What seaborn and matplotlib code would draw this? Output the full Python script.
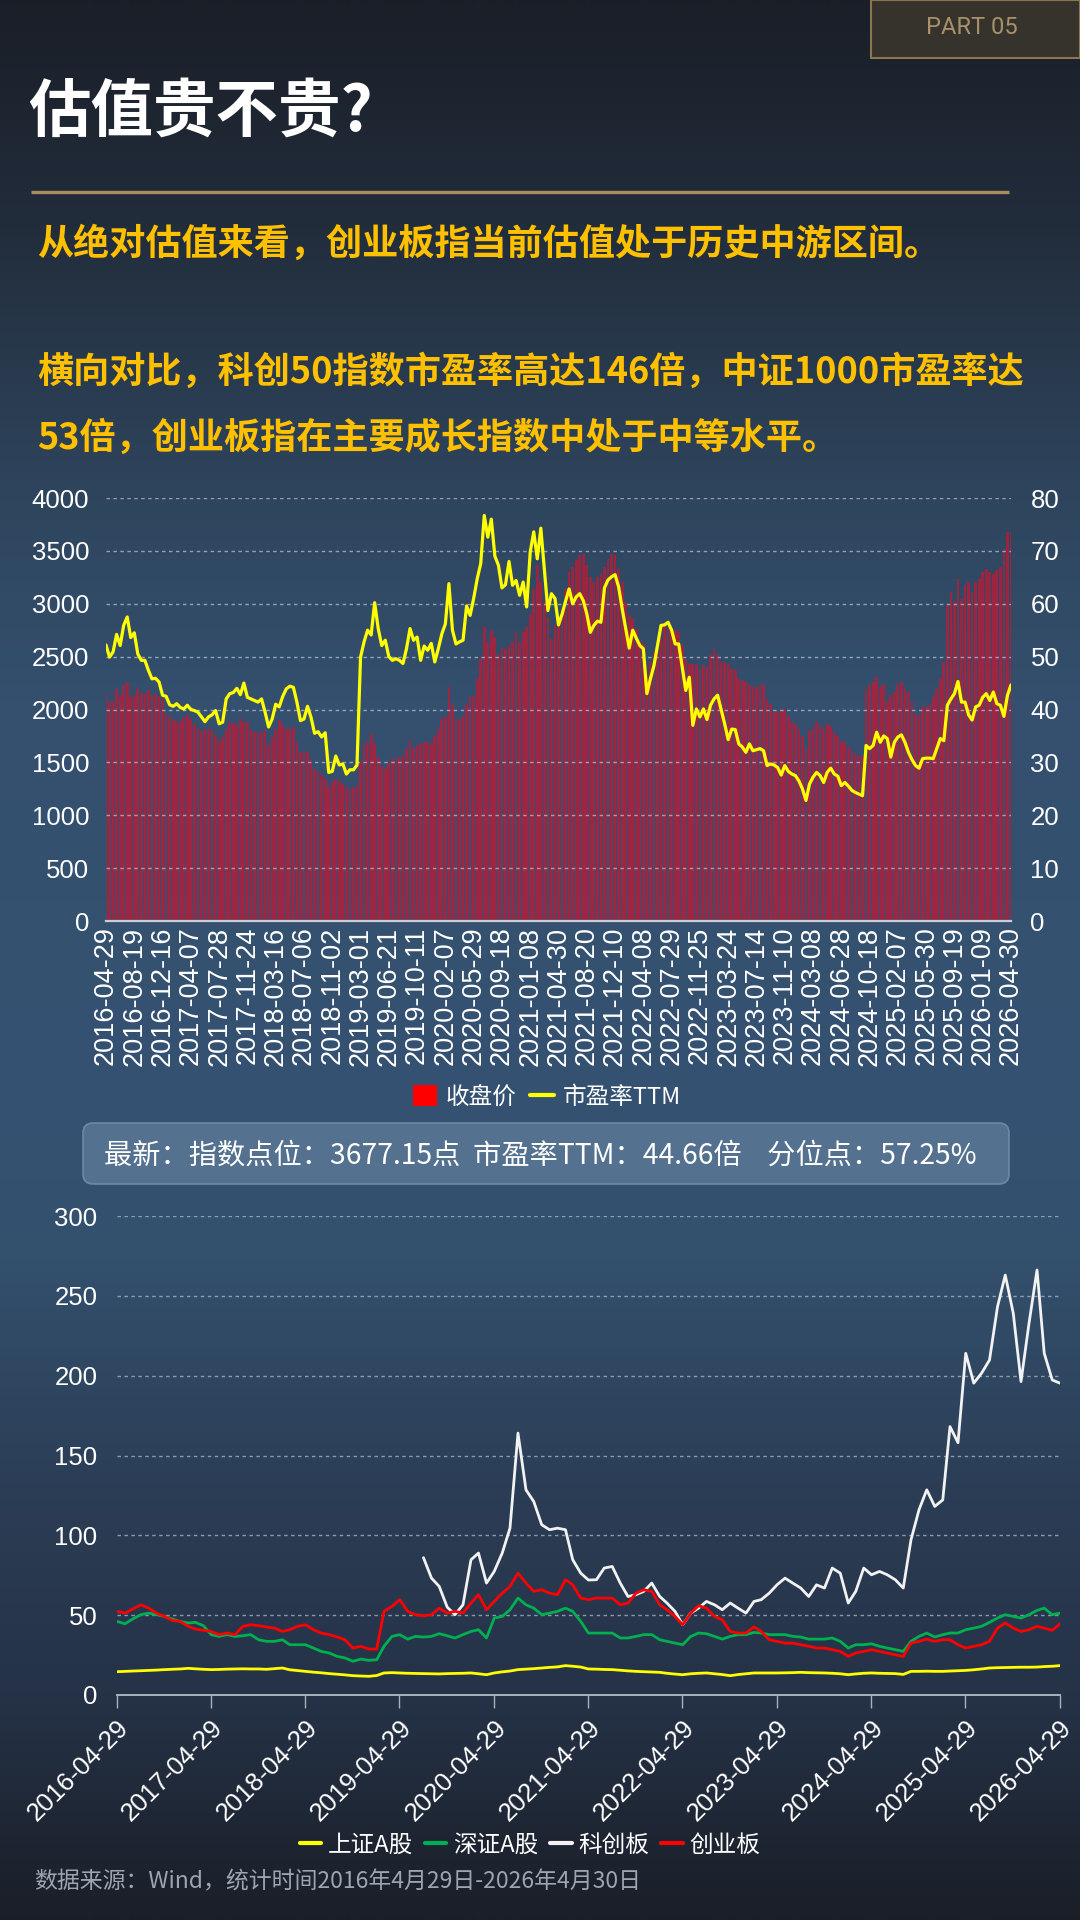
import numpy as np
import pandas as pd
import matplotlib
matplotlib.use("Agg")
import matplotlib.pyplot as plt
import matplotlib.dates as mdates
import seaborn as sns
from matplotlib.patches import FancyBboxPatch, Rectangle, Patch
from matplotlib.lines import Line2D
from matplotlib.colors import LinearSegmentedColormap

# ---------------- data: top chart (创业板指, bi-weekly) ----------------
close_price = [
    2133, 2070, 2070, 2196, 2133, 2227, 2259, 2117, 2130, 2196,
    2160, 2149, 2180, 2149, 2149, 2130, 2101, 1959, 1928, 1896,
    1880, 1890, 1928, 1950, 1912, 1865, 1824, 1792, 1817, 1817,
    1817, 1760, 1691, 1738, 1817, 1880, 1870, 1849, 1912, 1880,
    1880, 1817, 1786, 1786, 1786, 1811, 1660, 1738, 1817, 1896,
    1850, 1817, 1817, 1833, 1697, 1596, 1612, 1596, 1518, 1439,
    1423, 1376, 1344, 1265, 1312, 1344, 1328, 1297, 1265, 1249,
    1265, 1281, 1502, 1660, 1691, 1770, 1675, 1549, 1470, 1439,
    1495, 1533, 1533, 1549, 1565, 1628, 1707, 1634, 1660, 1675,
    1697, 1697, 1675, 1754, 1817, 1912, 1943, 2212, 2038, 1912,
    1912, 1943, 2038, 2117, 2130, 2291, 2480, 2780, 2638, 2748,
    2685, 2511, 2590, 2574, 2600, 2638, 2732, 2638, 2732, 2780,
    2890, 3142, 3363, 3206, 3016, 2874, 2669, 2795, 2827, 2890,
    3142, 3300, 3347, 3411, 3458, 3474, 3363, 3253, 3206, 3253,
    3284, 3347, 3426, 3474, 3458, 3332, 3206, 3016, 2890, 2858,
    2764, 2653, 2622, 2322, 2448, 2543, 2574, 2669, 2811, 2780,
    2764, 2748, 2732, 2606, 2480, 2432, 2432, 2432, 2385, 2417,
    2401, 2511, 2581, 2511, 2448, 2448, 2432, 2385, 2369, 2291,
    2275, 2259, 2227, 2212, 2212, 2227, 2227, 2101, 2054, 1975,
    1975, 1991, 2007, 1943, 1880, 1865, 1817, 1754, 1628, 1802,
    1817, 1880, 1849, 1817, 1860, 1842, 1786, 1754, 1691, 1691,
    1644, 1612, 1581, 1565, 1565, 2180, 2227, 2259, 2306, 2212,
    2243, 2070, 2133, 2164, 2227, 2259, 2196, 2164, 2070, 1959,
    1943, 2022, 2022, 2038, 2117, 2196, 2290, 2448, 2985, 3111,
    3016, 3237, 3048, 3174, 3206, 3111, 3206, 3237, 3300, 3332,
    3300, 3284, 3316, 3347, 3521, 3679, 3677.15,
]
pe_ttm = [
    52.2, 49.9, 50.9, 54.2, 52.1, 55.9, 57.5, 53.6, 54.5, 50.5,
    49.3, 49.3, 47.4, 45.8, 45.9, 45.2, 42.7, 42.5, 40.9, 40.6,
    41.1, 40.4, 40.1, 40.8, 40.0, 39.8, 39.5, 38.6, 37.7, 38.6,
    39.0, 39.8, 37.3, 37.6, 42.0, 43.0, 43.2, 44.0, 42.8, 45.0,
    42.3, 42.0, 41.7, 41.4, 42.0, 39.5, 36.7, 38.2, 41.0, 40.5,
    42.5, 43.9, 44.4, 44.2, 41.4, 37.9, 38.2, 40.6, 38.5, 35.5,
    35.8, 34.8, 35.6, 28.1, 28.3, 31.2, 29.5, 29.7, 27.8, 28.6,
    28.6, 29.5, 49.9, 52.8, 55.0, 54.1, 60.2, 55.3, 52.1, 53.1,
    50.0, 49.3, 49.6, 49.3, 48.7, 51.5, 55.3, 53.1, 53.7, 49.3,
    52.0, 51.2, 52.5, 49.0, 51.5, 54.3, 56.2, 63.8, 55.0, 52.4,
    52.8, 53.1, 59.6, 57.8, 61.0, 64.7, 67.6, 76.7, 72.6, 76.0,
    69.0, 67.3, 63.0, 63.6, 68.0, 63.5, 64.4, 61.6, 64.1, 59.4,
    69.8, 73.6, 68.5, 74.3, 66.6, 58.7, 61.9, 61.0, 56.0, 58.0,
    60.5, 62.8, 60.0, 61.3, 61.9, 60.6, 58.1, 54.6, 55.9, 56.7,
    56.5, 63.0, 64.5, 65.1, 65.5, 63.2, 59.1, 55.3, 51.6, 55.0,
    53.5, 52.1, 51.5, 43.0, 45.8, 48.3, 52.1, 55.9, 56.0, 56.5,
    55.0, 52.4, 52.4, 48.0, 43.6, 46.1, 37.0, 40.1, 38.6, 40.1,
    38.1, 40.8, 42.0, 42.7, 40.0, 37.3, 34.3, 36.3, 36.2, 33.5,
    32.9, 31.9, 33.5, 32.2, 32.4, 32.6, 32.2, 29.4, 29.7, 29.5,
    29.0, 27.6, 29.4, 28.3, 27.8, 27.5, 26.5, 25.0, 22.8, 25.9,
    27.2, 28.1, 27.5, 26.2, 28.1, 28.9, 27.8, 27.4, 25.6, 26.2,
    25.5, 24.7, 24.3, 24.0, 23.7, 33.2, 32.6, 33.2, 35.7, 33.8,
    35.0, 34.5, 31.0, 33.8, 34.8, 35.2, 33.8, 31.9, 30.5, 29.4,
    28.9, 30.7, 30.8, 30.8, 30.7, 32.6, 34.5, 34.1, 40.8, 42.0,
    43.0, 45.3, 41.4, 41.4, 39.0, 38.0, 40.5, 40.8, 42.3, 43.0,
    41.7, 43.3, 41.1, 40.8, 38.7, 42.7, 44.66,
]
top_tick_labels = [
    "2016-04-29", "2016-08-19", "2016-12-16", "2017-04-07", "2017-07-28",
    "2017-11-24", "2018-03-16", "2018-07-06", "2018-11-02", "2019-03-01",
    "2019-06-21", "2019-10-11", "2020-02-07", "2020-05-29", "2020-09-18",
    "2021-01-08", "2021-04-30", "2021-08-20", "2021-12-10", "2022-04-08",
    "2022-07-29", "2022-11-25", "2023-03-24", "2023-07-14", "2023-11-10",
    "2024-03-08", "2024-06-28", "2024-10-18", "2025-02-07", "2025-05-30",
    "2025-09-19", "2026-01-09", "2026-04-30",
]

# ---------------- data: bottom chart (monthly PE TTM) ----------------
sh_a = [
    14.6, 14.8, 15.0, 15.2, 15.4, 15.6, 15.9, 16.1, 16.3, 16.7, 16.4, 16.1,
    15.9, 16.0, 16.2, 16.3, 16.4, 16.3, 16.3, 16.1, 16.5, 16.9, 15.8, 15.3,
    14.8, 14.3, 13.9, 13.4, 13.0, 12.6, 12.1, 11.9, 11.7, 12.2, 13.8, 14.0,
    13.8, 13.6, 13.5, 13.4, 13.3, 13.2, 13.4, 13.5, 13.6, 13.8, 13.3, 12.7,
    13.8, 14.5, 15.0, 15.9, 16.2, 16.5, 16.9, 17.3, 17.6, 18.4, 18.0, 17.5,
    16.3, 16.2, 16.0, 15.9, 15.5, 15.1, 14.8, 14.6, 14.4, 14.2, 13.6, 13.1,
    12.7, 13.3, 13.6, 13.8, 13.3, 12.8, 12.1, 12.8, 13.3, 13.8, 13.8, 13.8,
    13.8, 13.9, 14.0, 14.2, 14.0, 13.9, 13.8, 13.6, 13.3, 12.7, 13.2, 13.6,
    13.8, 13.6, 13.5, 13.4, 12.9, 14.8, 14.8, 14.9, 14.8, 14.8, 15.0, 15.2,
    15.4, 15.8, 16.3, 16.9, 17.1, 17.2, 17.3, 17.4, 17.4, 17.5, 17.8, 18.0,
    18.4,
]
sz_a = [
    46.1, 44.6, 47.6, 50.3, 51.3, 50.3, 49.2, 47.6, 46.1, 45.1, 45.5, 43.4,
    37.8, 36.7, 37.8, 36.7, 37.1, 37.8, 34.6, 33.6, 33.6, 34.6, 31.5, 31.5,
    31.5, 29.4, 27.3, 26.3, 24.2, 23.2, 21.1, 22.5, 21.7, 22.1, 30.5, 36.7,
    37.8, 35.0, 36.7, 36.3, 36.7, 38.4, 37.1, 35.7, 37.8, 39.8, 40.9, 35.7,
    48.2, 49.2, 53.4, 60.7, 56.5, 54.4, 50.3, 51.3, 52.4, 54.4, 52.4, 46.1,
    38.8, 38.8, 38.8, 38.8, 35.7, 35.7, 36.7, 37.8, 37.8, 34.6, 33.6, 32.5,
    31.5, 36.7, 38.8, 38.4, 36.7, 35.0, 36.7, 37.8, 37.8, 39.2, 38.8, 37.8,
    37.8, 37.8, 36.7, 36.3, 35.0, 35.0, 35.0, 35.7, 33.6, 29.4, 31.5, 31.5,
    32.1, 30.5, 29.4, 28.4, 27.3, 33.6, 36.7, 38.8, 36.3, 37.8, 38.8, 38.8,
    40.9, 41.9, 43.0, 45.5, 48.2, 50.3, 49.2, 48.2, 50.3, 53.0, 54.4, 50.3,
    51.3,
]
kcb = [np.nan] * 39 + [
    86.0, 73.2, 68.0, 55.0, 50.3, 56.5, 84.7, 88.9, 70.1,
    77.4, 88.9, 104.5, 164.0, 128.5, 121.2, 106.6, 103.5, 104.5, 103.5, 84.7, 76.3,
    72.0, 72.2, 79.5, 80.5, 70.1, 61.7, 62.8, 64.9, 70.1, 61.7, 57.6, 52.4,
    44.0, 51.3, 54.4, 58.6, 56.5, 53.4, 57.6, 54.4, 51.3, 58.6, 59.7, 63.8,
    69.0, 73.2, 70.1, 67.0, 61.7, 69.0, 67.0, 79.5, 76.3, 57.6, 64.9, 79.5,
    75.3, 77.4, 75.3, 72.2, 67.0, 97.2, 116.0, 128.5, 118.1, 122.2, 168.1, 158.0,
    214.0, 195.3, 201.5, 209.8, 243.2, 263.0, 239.1, 196.3, 232.8, 266.2, 214.0, 197.3,
    195.3,
]
cyb = [
    52.4, 51.3, 53.8, 56.5, 54.4, 51.3, 49.2, 46.7, 46.1, 43.0, 41.3, 40.5,
    39.8, 37.8, 38.8, 37.8, 43.0, 44.0, 43.4, 42.6, 41.9, 39.8, 40.9, 43.0,
    44.0, 40.9, 38.8, 37.8, 36.3, 34.6, 29.4, 30.5, 28.8, 28.8, 52.4, 55.5,
    59.7, 52.4, 50.3, 49.6, 50.3, 54.4, 51.3, 52.4, 51.3, 57.6, 62.8, 53.4,
    58.6, 63.8, 68.0, 76.3, 70.1, 64.9, 65.9, 63.8, 62.8, 72.2, 69.0, 60.7,
    59.7, 60.7, 60.7, 60.7, 56.5, 57.6, 63.8, 65.9, 64.9, 56.5, 53.4, 49.2,
    44.0, 51.3, 55.9, 54.4, 49.2, 47.1, 39.8, 38.8, 38.8, 42.6, 39.8, 34.6,
    33.6, 32.5, 32.5, 31.5, 30.5, 29.4, 29.4, 28.4, 27.3, 24.2, 26.3, 27.3,
    28.4, 27.3, 26.3, 25.2, 24.2, 32.5, 33.6, 35.0, 33.6, 34.6, 34.6, 31.5,
    29.4, 30.5, 31.5, 33.6, 41.9, 45.1, 41.9, 39.8, 40.9, 43.0, 41.9, 40.5,
    44.6,
]
series_names = ["上证A股", "深证A股", "科创板", "创业板"]
series_colors = ["#ffff00", "#00b050", "#f2f2f2", "#ff0000"]
bottom_tick_labels = [
    "2016-04-29", "2017-04-29", "2018-04-29", "2019-04-29", "2020-04-29",
    "2021-04-29", "2022-04-29", "2023-04-29", "2024-04-29", "2025-04-29",
    "2026-04-29",
]

# ---------------- style ----------------
sns.set_theme(style="white")
CJK = ["Noto Sans CJK SC", "DejaVu Sans"]
NUM = ["Liberation Sans", "Noto Sans CJK SC", "DejaVu Sans"]
plt.rcParams["font.family"] = NUM
plt.rcParams["axes.unicode_minus"] = False

W, H = 1080, 1920
fig = plt.figure(figsize=(10.8, 19.2), dpi=100)


def rect(x0, y0, x1, y1):
    return [x0 / W, 1 - y1 / H, (x1 - x0) / W, (y1 - y0) / H]


# background
bg = fig.add_axes([0, 0, 1, 1], zorder=0)
stops = [(0.0, "#1a1f28"), (200 / H, "#212b39"), (480 / H, "#2e445c"),
         (700 / H, "#34506e"), (1100 / H, "#355272"), (1260 / H, "#33506d"),
         (1500 / H, "#2b3d55"), (1700 / H, "#253247"), (1.0, "#1a1f28")]
cmap = LinearSegmentedColormap.from_list("bg", stops)
bg.imshow(np.linspace(0, 1, 960).reshape(-1, 1), cmap=cmap, aspect="auto",
          extent=(0, W, H, 0), interpolation="bicubic")
bg.set_xlim(0, W)
bg.set_ylim(H, 0)
bg.axis("off")

# header decorations
bg.add_patch(Rectangle((871, 0), 209, 58, facecolor="#36322c", edgecolor="#8c7650", lw=1.5))
bg.text(972, 28, "PART 05", color="#a8916a", fontsize=17, ha="center", va="center",
        family=["Roboto", "DejaVu Sans"])
bg.text(28, 112, "估值贵不贵?", color="white", fontsize=45, fontweight="black",
        ha="left", va="center", family=CJK)
bg.plot([31, 1009], [192, 192], color="#a98b5c", lw=2.4, solid_capstyle="butt")
para = ["从绝对估值来看，创业板指当前估值处于历史中游区间。",
        "横向对比，科创50指数市盈率高达146倍，中证1000市盈率达",
        "53倍，创业板指在主要成长指数中处于中等水平。"]
for txt, yy in zip(para, [244, 372, 438]):
    bg.text(37, yy, txt, color="#ffc000", fontsize=26, fontweight="black",
            ha="left", va="center", family=CJK)

# ---------------- top chart ----------------
N = len(close_price)
top_df = pd.DataFrame({"idx": np.arange(N), "close": close_price, "pe": pe_ttm})
ax1 = fig.add_axes(rect(106, 498, 1011, 921), zorder=2)
ax1.patch.set_alpha(0)
sns.barplot(data=top_df, x="idx", y="close", ax=ax1, color="#c41834", alpha=0.72,
            width=0.78, saturation=1, errorbar=None, linewidth=0)
ax1.set_ylim(0, 4000)
ax1.set_yticks(range(0, 4001, 500))
ax1.set_xlim(0, N - 1)
ax1.set_xticks(range(0, N, 8))
ax1.set_xticklabels(top_tick_labels, rotation=90, color="white", fontsize=19.5, family=NUM)
ax1.tick_params(axis="x", length=0, pad=4)
ax1.tick_params(axis="y", length=0, pad=12, labelcolor="white", labelsize=18.5)
ax1.set_axisbelow(False)
ax1.grid(axis="y", color="#b4c2d2", linestyle=(0, (2.5, 2.5)), lw=1.0, alpha=0.75)
ax1.grid(axis="x", visible=False)
ax1.set_xlabel("")
ax1.set_ylabel("")

ax2 = ax1.twinx()
ax2.patch.set_alpha(0)
sns.lineplot(data=top_df, x="idx", y="pe", ax=ax2, color="#ffff00", linewidth=2.3)
ax2.set_ylim(0, 80)
ax2.set_yticks(range(0, 81, 10))
ax2.set_xlim(0, N - 1)
ax2.tick_params(axis="y", length=0, pad=14, labelcolor="white", labelsize=18.5)
ax2.grid(False)
ax2.set_xlabel("")
ax2.set_ylabel("")
for a in (ax1, ax2):
    for s in a.spines.values():
        s.set_visible(False)
ax1.spines["bottom"].set_visible(True)
ax1.spines["bottom"].set_color("#c9ced6")
ax1.spines["bottom"].set_linewidth(1.6)

fig.legend([Patch(facecolor="#ff0000", edgecolor="none"),
            Line2D([0], [0], color="#ffff00", lw=3)],
           ["收盘价", "市盈率TTM"], loc="center", bbox_to_anchor=(547 / W, 1 - 1097 / H),
           ncol=2, frameon=False, prop={"family": CJK, "size": 17}, labelcolor="white",
           handlelength=1.0, handleheight=1.0, handletextpad=0.35, columnspacing=0.6)

# info box
bg.add_patch(FancyBboxPatch((83, 1123), 926, 61, boxstyle="round,pad=0,rounding_size=10",
                            facecolor="#5a7796", edgecolor="#7390ae", lw=1.2, alpha=0.85))
bg.text(104, 1155, "最新：指数点位：3677.15点  市盈率TTM：44.66倍    分位点：57.25%",
        color="white", fontsize=20.3, ha="left", va="center", family=CJK)

# ---------------- bottom chart ----------------
months = pd.date_range("2016-04-30", periods=len(sh_a), freq=pd.offsets.MonthEnd())
wide = pd.DataFrame({"date": months, series_names[0]: sh_a, series_names[1]: sz_a,
                     series_names[2]: kcb, series_names[3]: cyb})
long_df = wide.melt(id_vars="date", var_name="series", value_name="pe").dropna()
ax3 = fig.add_axes(rect(116.7, 1216, 1060, 1695), zorder=2)
ax3.patch.set_alpha(0)
sns.lineplot(data=long_df, x="date", y="pe", hue="series", hue_order=series_names,
             palette=dict(zip(series_names, series_colors)), linewidth=2.0, ax=ax3,
             legend=False, estimator=None)
tick_dates = mdates.date2num(pd.to_datetime(bottom_tick_labels).to_pydatetime())
ax3.set_xlim(tick_dates[0], mdates.date2num(pd.Timestamp("2026-04-30").to_pydatetime()))
ax3.set_xticks(tick_dates)
ax3.set_xticklabels(bottom_tick_labels, rotation=45, ha="right", rotation_mode="anchor",
                    color="white", fontsize=18.5, family=NUM)
ax3.set_ylim(0, 300)
ax3.set_yticks(range(0, 301, 50))
ax3.tick_params(axis="x", length=9, width=1, color="#a9b1bb", direction="out", pad=6, bottom=True)
ax3.tick_params(axis="y", length=0, pad=14, labelcolor="white", labelsize=18.5)
ax3.grid(axis="y", color="#b4c2d2", linestyle=(0, (2.5, 2.5)), lw=1.0, alpha=0.7)
ax3.grid(axis="x", visible=False)
for s in ax3.spines.values():
    s.set_visible(False)
ax3.spines["bottom"].set_visible(True)
ax3.spines["bottom"].set_color("#a9b1bb")
ax3.spines["bottom"].set_linewidth(1.4)
ax3.set_xlabel("")
ax3.set_ylabel("")

fig.legend([Line2D([0], [0], color=c, lw=3) for c in series_colors], series_names,
           loc="center", bbox_to_anchor=(530 / W, 1 - 1845 / H), ncol=4, frameon=False,
           prop={"family": CJK, "size": 17}, labelcolor="white", handlelength=0.9,
           handletextpad=0.3, columnspacing=0.5)

bg.text(34, 1882, "数据来源：Wind，统计时间2016年4月29日-2026年4月30日", color="#9ca5b0",
        fontsize=16.5, ha="left", va="center", family=CJK)

fig.savefig("out.png", dpi=100)
